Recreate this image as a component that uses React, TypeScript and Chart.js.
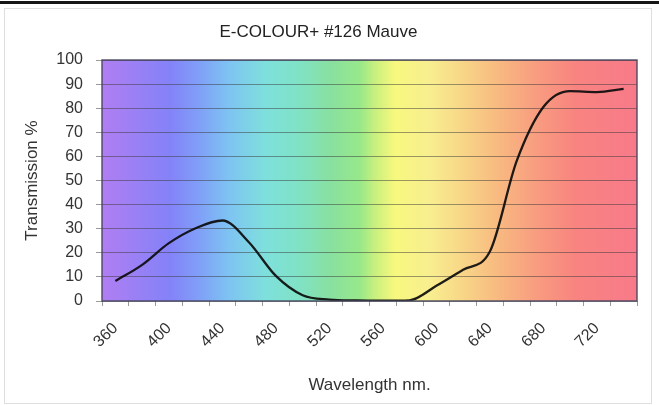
import React, { useEffect, useRef } from 'react';
import { Chart, registerables } from 'chart.js';

Chart.register(...registerables);

// ---- data ----
const wavelengths = [360, 380, 400, 420, 440, 460, 480, 500, 520, 540, 560, 580, 600, 620, 640, 660, 680, 700, 720, 740];
const transmission = [8.3, 15, 24, 30.2, 33.4, 24.3, 10.4, 2.4, 0.6, 0.2, 0.1, 0.3, 6.3, 13, 20.5, 58, 80.5, 87.1, 86.7, 88];
const shownXLabels = ['360', '400', '440', '480', '520', '560', '600', '640', '680', '720'];
const chartTitle = 'E-COLOUR+ #126 Mauve';
const xTitle = 'Wavelength nm.';
const yTitle = 'Transmission %';

// ---- style ----
const FONT = "'Liberation Sans', Arial, sans-serif";
const spectrumStops: [number, string][] = [
  [0, '#b07ef2'],
  [0.127, '#8482f8'],
  [0.183, '#80a0f8'],
  [0.239, '#7ec4f2'],
  [0.305, '#7ee0dc'],
  [0.37, '#80e2c4'],
  [0.426, '#88e0a0'],
  [0.482, '#98e88a'],
  [0.51, '#c8f07e'],
  [0.548, '#f8f87e'],
  [0.613, '#f8ee90'],
  [0.669, '#f8d888'],
  [0.744, '#f8b880'],
  [0.819, '#f89a80'],
  [0.884, '#f88480'],
  [1, '#f87a8a'],
];

const spectrumPlugin = {
  id: 'spectrum',
  beforeDraw(chart: any) {
    const { ctx, chartArea: a } = chart;
    const g = ctx.createLinearGradient(a.left, 0, a.right, 0);
    spectrumStops.forEach(([o, c]) => g.addColorStop(o, c));
    ctx.save();
    ctx.fillStyle = g;
    ctx.fillRect(a.left, a.top, a.right - a.left, a.bottom - a.top);
    ctx.restore();
  },
  afterDraw(chart: any) {
    const { ctx, chartArea: a } = chart;
    ctx.save();
    ctx.strokeStyle = 'rgba(70,70,95,0.9)';
    ctx.lineWidth = 1.5;
    ctx.strokeRect(a.left, a.top, a.right - a.left, a.bottom - a.top);
    ctx.restore();
  },
};

export default function App() {
  const ref = useRef<HTMLCanvasElement>(null);

  useEffect(() => {
    document.body.style.margin = '0';
    const chart = new Chart(ref.current as HTMLCanvasElement, {
      type: 'line',
      data: {
        labels: wavelengths.map(String),
        datasets: [
          {
            data: transmission,
            borderColor: 'rgba(12,12,12,0.92)',
            borderWidth: 2.3,
            pointRadius: 0,
            fill: false,
            cubicInterpolationMode: 'monotone',
          },
        ],
      },
      options: {
        animation: false,
        responsive: false,
        events: [],
        layout: { padding: { left: 0, right: 22, top: 0, bottom: 0 } },
        plugins: {
          legend: { display: false },
          tooltip: { enabled: false },
          title: {
            display: true,
            text: chartTitle,
            color: '#222',
            font: { family: FONT, size: 17, weight: 'normal' },
            padding: { top: 22, bottom: 17.6 },
          },
        },
        scales: {
          x: {
            type: 'category',
            offset: true,
            grid: {
              display: true,
              drawOnChartArea: false,
              offset: true,
              tickLength: 5,
              color: '#9a9a9a',
            },
            border: { display: false },
            ticks: {
              autoSkip: false,
              minRotation: 45,
              maxRotation: 45,
              padding: 13,
              color: '#333',
              font: { family: FONT, size: 16 },
              callback: (_v: any, i: number) => {
                const s = String(wavelengths[i]);
                return shownXLabels.includes(s) ? s : '';
              },
            },
            title: {
              display: true,
              text: xTitle,
              color: '#333',
              font: { family: FONT, size: 17 },
              padding: { top: 0, bottom: 9 },
            },
            afterFit: (s: any) => {
              s.height = 104;
            },
          },
          y: {
            min: 0,
            max: 100,
            grid: {
              color: 'rgba(55,55,55,0.5)',
              lineWidth: 1,
              tickLength: 6,
            },
            border: { display: false },
            ticks: {
              stepSize: 10,
              padding: 13,
              color: '#333',
              font: { family: FONT, size: 16 },
            },
            title: {
              display: true,
              text: yTitle,
              color: '#333',
              font: { family: FONT, size: 17 },
              padding: { top: 22, bottom: 0 },
            },
            afterFit: (s: any) => {
              s.width = 102;
            },
          },
        },
      },
      plugins: [spectrumPlugin],
    } as any);
    return () => chart.destroy();
  }, []);

  return (
    <div style={{ position: 'relative', width: 659, height: 405, background: '#fff' }}>
      <canvas ref={ref} width={659} height={405} style={{ display: 'block' }} />
      <div
        style={{
          position: 'absolute',
          left: 4,
          top: 8,
          width: 646,
          height: 394,
          border: '1px solid #dedede',
          pointerEvents: 'none',
        }}
      />
      <div
        style={{
          position: 'absolute',
          left: 0,
          top: 1,
          width: 659,
          height: 3,
          background: '#161616',
          pointerEvents: 'none',
        }}
      />
    </div>
  );
}
